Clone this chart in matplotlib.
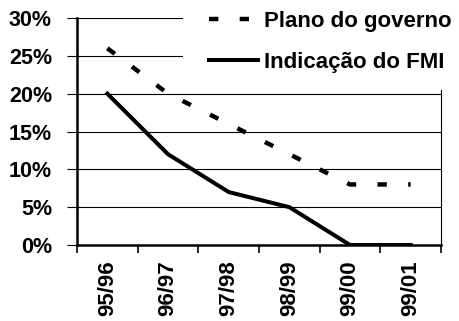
import matplotlib
matplotlib.use("Agg")
import matplotlib.pyplot as plt
from matplotlib.patches import Rectangle
from matplotlib.ticker import FuncFormatter

# Fiscal years and the deficit targets (% of GDP)
years = ["95/96", "96/97", "97/98", "98/99", "99/00", "99/01"]
plano_governo = [26, 20, 16, 12, 8, 8]
indicacao_fmi = [20, 12, 7, 5, 0, 0]
y_ticks = [0, 5, 10, 15, 20, 25, 30]

plt.rcParams["font.family"] = ["Liberation Sans", "DejaVu Sans"]
plt.rcParams["font.weight"] = "bold"

W, H = 459, 321
fig = plt.figure(figsize=(W / 100, H / 100), dpi=100)
ax = fig.add_axes([77 / W, 1 - 245 / H, 364 / W, 227 / H])

x = range(len(years))
dash_line, = ax.plot(x, plano_governo, color="black", lw=3.2,
                     solid_capstyle="butt", dash_capstyle="butt",
                     label="Plano do governo", zorder=3)
dash_line.set_dashes([2.1, 4.8])
ax.plot(x, indicacao_fmi, color="black", lw=2.9, label="Indicação do FMI",
        solid_joinstyle="round", zorder=3)

ax.set_xlim(-0.5, len(years) - 0.5)
ax.set_ylim(0, 30)
ax.set_yticks(y_ticks)
ax.yaxis.set_major_formatter(FuncFormatter(lambda v, p: f"{v:.0f}%"))
ax.yaxis.grid(True, color="black", lw=0.8)
ax.set_axisbelow(True)

ax.set_xticks([i - 0.5 for i in range(len(years) + 1)])
ax.set_xticklabels([])
ax.set_xticks(list(x), minor=True)
ax.set_xticklabels(years, minor=True, rotation=90, fontsize=16, fontweight="bold")
ax.tick_params(axis="x", which="minor", length=0, pad=11)
ax.tick_params(axis="x", which="major", length=6, width=1.2, direction="out")
ax.tick_params(axis="y", length=7, width=0.8, labelsize=15.5, pad=11)
for lab in ax.get_yticklabels():
    lab.set_fontweight("bold")

ax.spines["top"].set_visible(False)
ax.spines["left"].set_linewidth(1.8)
ax.spines["bottom"].set_linewidth(1.8)
ax.spines["right"].set_linewidth(0.8)

# white panel behind the legend, hiding the grid underneath it
panel = Rectangle((183 / W, 1 - 90 / H), 1 - 183 / W, 90 / H,
                  transform=fig.transFigure, facecolor="white",
                  edgecolor="none", zorder=4, clip_on=False)
ax.add_artist(panel)

leg = ax.legend(loc="upper right", bbox_to_anchor=(452 / W, 1 - 11 / H),
                bbox_transform=fig.transFigure, frameon=False,
                prop={"size": 16, "weight": "bold"}, handlelength=2.2,
                handletextpad=0.3, labelspacing=0.9, borderpad=0.0,
                borderaxespad=0.0)
leg.set_zorder(5)

fig.savefig("out.png", dpi=100)
